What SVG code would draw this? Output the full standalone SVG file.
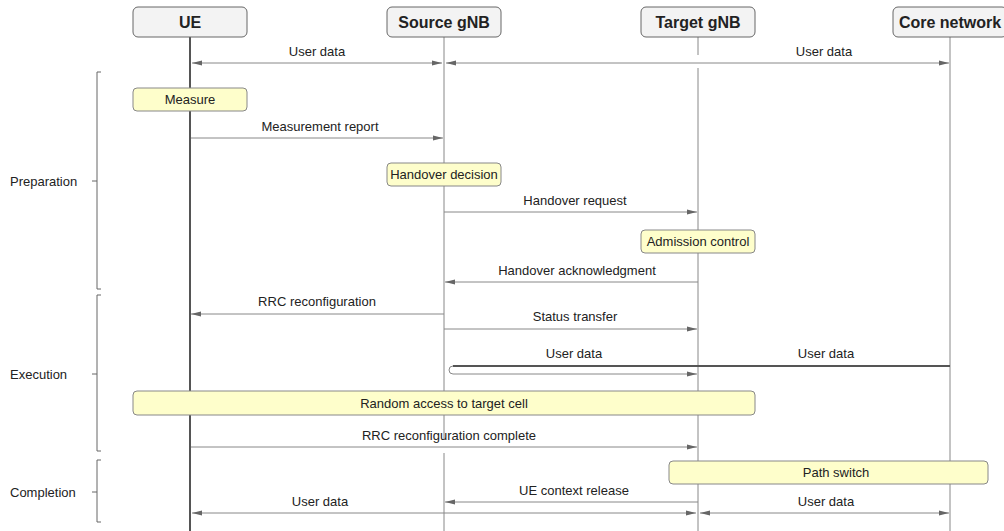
<svg xmlns="http://www.w3.org/2000/svg" width="1004" height="531" viewBox="0 0 1004 531">
  <style>
    .actor rect { fill: #f3f3f3; stroke: #666; stroke-width: 1; }
    .actor text { font-family: "Liberation Sans", Arial, sans-serif; font-size: 16px; font-weight: bold; fill: #222; text-anchor: middle; }
    .life { stroke: #888; stroke-width: 1; fill: none; }
    .life.ue { stroke: #555; stroke-width: 2; }
    .msg { stroke: #888; stroke-width: 1; fill: none; }
    .lbl { font-family: "Liberation Sans", Arial, sans-serif; font-size: 13px; fill: #222; text-anchor: middle; }
    .note rect { fill: #fefecb; stroke: #888; stroke-width: 1; }
    .note text { font-family: "Liberation Sans", Arial, sans-serif; font-size: 13px; fill: #222; text-anchor: middle; }
    .phase path { stroke: #666; stroke-width: 1; fill: none; }
    .phase text { font-family: "Liberation Sans", Arial, sans-serif; font-size: 13px; fill: #222; }
  </style>
  <defs>
    <marker id="head" viewBox="0 0 10 6" refX="10" refY="3" markerWidth="10" markerHeight="6" markerUnits="userSpaceOnUse" orient="auto-start-reverse">
      <path d="M0,0.5 L10,3 L0,5.5 z" fill="#666"/>
    </marker>
  </defs>

  <rect width="1004" height="531" fill="#ffffff"/>

  <!-- lifelines -->
  <g id="lifelines">
    <line class="life ue" x1="190" y1="37" x2="190" y2="531"/>
    <path class="life" d="M444,37 V440 M444,453 V531"/>
    <path class="life" d="M698,37 V55 M698,68 V531"/>
    <line class="life" x1="950" y1="37" x2="950" y2="531"/>
  </g>

  <!-- participants -->
  <g id="ue" class="actor">
    <rect x="133" y="7" width="114" height="30" rx="5"/>
    <text x="190" y="28">UE</text>
  </g>
  <g id="source-gnb" class="actor">
    <rect x="387" y="7" width="114" height="30" rx="5"/>
    <text x="444" y="28">Source gNB</text>
  </g>
  <g id="target-gnb" class="actor">
    <rect x="641" y="7" width="114" height="30" rx="5"/>
    <text x="698" y="28">Target gNB</text>
  </g>
  <g id="core-network" class="actor">
    <rect x="893" y="7" width="114" height="30" rx="5"/>
    <text x="950" y="28">Core network</text>
  </g>

  <!-- phase brackets -->
  <g id="phase-preparation" class="phase">
    <path d="M101,72 H97 V289 H101 M97,181 H92"/>
    <text x="10" y="186">Preparation</text>
  </g>
  <g id="phase-execution" class="phase">
    <path d="M101,295 H97 V451 H101 M97,374 H92"/>
    <text x="10" y="379">Execution</text>
  </g>
  <g id="phase-completion" class="phase">
    <path d="M101,460 H97 V522 H101 M97,492 H92"/>
    <text x="10" y="497">Completion</text>
  </g>

  <!-- messages -->
  <g id="connectors">
    <line class="msg" x1="192" y1="63" x2="442" y2="63" marker-start="url(#head)" marker-end="url(#head)"/>
    <text class="lbl" x="317" y="56">User data</text>
    <line class="msg" x1="446" y1="63" x2="949" y2="63" marker-start="url(#head)" marker-end="url(#head)"/>
    <text class="lbl" x="824" y="56">User data</text>

    <line class="msg" x1="191" y1="138" x2="443" y2="138" marker-end="url(#head)"/>
    <text class="lbl" x="320" y="131">Measurement report</text>

    <line class="msg" x1="444" y1="212" x2="697" y2="212" marker-end="url(#head)"/>
    <text class="lbl" x="575" y="205">Handover request</text>

    <line class="msg" x1="698" y1="282" x2="445" y2="282" marker-end="url(#head)"/>
    <text class="lbl" x="577" y="275">Handover acknowledgment</text>

    <line class="msg" x1="444" y1="314" x2="191" y2="314" marker-end="url(#head)"/>
    <text class="lbl" x="317" y="306">RRC reconfiguration</text>

    <line class="msg" x1="444" y1="329" x2="697" y2="329" marker-end="url(#head)"/>
    <text class="lbl" x="575" y="321">Status transfer</text>

    <path class="msg" d="M950,366 H453 A4,4 0 0 0 453,374 H697" marker-end="url(#head)"/>
    <line x1="950" y1="366" x2="453" y2="366" stroke="#555" stroke-width="2"/>
    <text class="lbl" x="574" y="358">User data</text>
    <text class="lbl" x="826" y="358">User data</text>

    <line class="msg" x1="191" y1="447" x2="697" y2="447" marker-end="url(#head)"/>
    <text class="lbl" x="449" y="440">RRC reconfiguration complete</text>

    <line class="msg" x1="698" y1="502" x2="445" y2="502" marker-end="url(#head)"/>
    <text class="lbl" x="574" y="495">UE context release</text>

    <line class="msg" x1="192" y1="513" x2="696" y2="513" marker-start="url(#head)" marker-end="url(#head)"/>
    <text class="lbl" x="320" y="506">User data</text>
    <line class="msg" x1="700" y1="513" x2="949" y2="513" marker-start="url(#head)" marker-end="url(#head)"/>
    <text class="lbl" x="826" y="506">User data</text>
  </g>

  <!-- notes -->
  <g id="note-measure" class="note">
    <rect x="133" y="88" width="114" height="23" rx="4"/>
    <text x="190" y="104">Measure</text>
  </g>
  <g id="note-handover-decision" class="note">
    <rect x="387" y="163" width="114" height="23" rx="4"/>
    <text x="444" y="179">Handover decision</text>
  </g>
  <g id="note-admission-control" class="note">
    <rect x="641" y="230" width="114" height="23" rx="4"/>
    <text x="698" y="246">Admission control</text>
  </g>
  <g id="note-random-access" class="note">
    <rect x="133" y="391" width="622" height="24" rx="4"/>
    <text x="444" y="408">Random access to target cell</text>
  </g>
  <g id="note-path-switch" class="note">
    <rect x="669" y="461" width="319" height="23" rx="4"/>
    <text x="836" y="477">Path switch</text>
  </g>
</svg>
